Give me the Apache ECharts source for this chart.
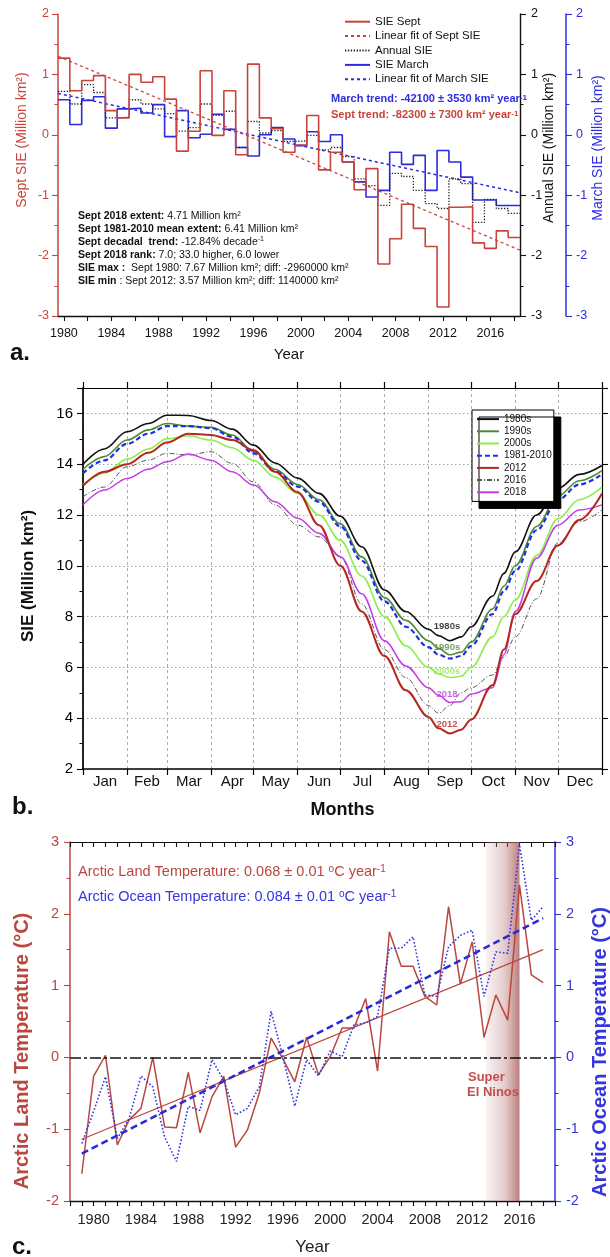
<!DOCTYPE html>
<html><head><meta charset="utf-8">
<script src="https://cdn.jsdelivr.net/npm/echarts@6.0.0/dist/echarts.min.js"></script>
<style>html,body{margin:0;padding:0;background:#fff}#c{width:610px;height:1257px}</style>
</head><body><div id="c"></div>
<script>
const F = "'Liberation Sans', Arial, Helvetica, sans-serif";

// ---------- Panel a : September / March / Annual SIE anomalies ----------
const sieYears = [1980,1981,1982,1983,1984,1985,1986,1987,1988,1989,1990,1991,1992,1993,1994,1995,1996,1997,1998,1999,2000,2001,2002,2003,2004,2005,2006,2007,2008,2009,2010,2011,2012,2013,2014,2015,2016,2017,2018];
const sieSept = [1.27,0.73,0.90,0.98,0.40,0.28,1.00,0.87,0.96,0.59,-0.27,0.06,1.06,-0.01,0.73,-0.33,1.17,0.28,0.10,-0.29,-0.17,0.32,-0.58,-0.29,-0.45,-0.91,-0.56,-2.14,-1.72,-1.15,-1.55,-1.85,-2.85,-1.20,-1.19,-1.79,-1.88,-1.59,-1.70];
const sieAnnual = [0.72,0.51,0.83,0.70,0.28,0.29,0.58,0.51,0.43,0.35,0.06,0.12,0.51,0.32,0.39,-0.21,0.22,0.03,0.07,-0.11,-0.10,-0.01,-0.25,-0.21,-0.36,-0.73,-0.84,-1.17,-0.64,-0.69,-0.92,-1.14,-1.22,-0.73,-0.81,-1.45,-1.07,-1.22,-1.30];
const sieMarch = [0.58,0.17,0.57,0.63,0.11,0.43,0.44,0.36,0.50,-0.03,0.40,-0.05,0.01,0.34,0.09,-0.21,-0.35,0.00,0.12,-0.07,-0.18,0.05,-0.11,0.00,-0.45,-0.78,-1.03,-0.92,-0.29,-0.49,-0.34,-0.92,-0.26,-0.45,-0.70,-1.08,-1.08,-1.17,-1.17];
const sieFitYears = [1979.5, 2018.5];
const sieSeptFit = [1.30, -1.91];
const sieMarchFit = [0.685, -0.96];
const sieTickYears = [1980,1982,1984,1986,1988,1990,1992,1994,1996,1998,2000,2002,2004,2006,2008,2010,2012,2014,2016,2018];
const sieLabelYears = [1980,1984,1988,1992,1996,2000,2004,2008,2012,2016];

// ---------- Panel b : daily SIE climatologies ----------
const monthNames = ['Jan','Feb','Mar','Apr','May','Jun','Jul','Aug','Sep','Oct','Nov','Dec'];
const monthStarts = [0,31,59,90,120,151,181,212,243,273,304,334,365];
const climDays = [0,15,31,46,59,74,90,105,120,135,151,166,181,196,212,227,243,250,258,266,273,288,296,304,319,334,349,365];
const ext1980s = [14.0,14.6,15.28,15.6,15.93,15.92,15.72,15.38,14.75,14.05,13.45,12.85,11.95,10.75,9.05,8.2,7.5,7.25,7.05,7.2,7.6,8.8,9.7,10.55,12.0,13.05,13.6,13.95];
const ext1990s = [13.8,14.3,14.95,15.35,15.6,15.5,15.45,15.15,14.5,13.8,13.2,12.6,11.65,10.35,8.75,7.85,7.05,6.75,6.5,6.6,7.0,8.3,9.2,10.0,11.55,12.75,13.35,13.75];
const ext2000s = [13.2,13.65,14.2,14.6,15.0,15.12,14.95,14.65,14.15,13.5,12.85,12.0,11.0,9.6,8.0,6.85,6.0,5.75,5.6,5.65,6.0,7.2,8.0,8.65,10.4,11.85,12.6,13.1];
const ext8110 = [13.65,14.15,14.8,15.2,15.5,15.5,15.42,15.08,14.43,13.72,13.12,12.52,11.55,10.2,8.6,7.6,6.8,6.5,6.35,6.45,6.85,8.1,9.0,9.8,11.4,12.6,13.2,13.6];
const ext2012 = [13.15,13.7,14.0,14.45,14.85,15.2,15.15,14.95,14.55,13.7,12.9,11.6,10.0,8.2,6.45,5.1,4.05,3.6,3.4,3.55,3.95,5.3,6.7,8.1,9.4,10.8,11.8,12.85];
const ext2016 = [12.72,13.1,13.9,14.16,14.43,14.36,14.49,14.03,13.3,12.4,11.6,11.14,10.36,8.5,6.7,5.6,4.5,4.2,4.5,5.0,5.2,5.7,6.4,7.2,8.7,10.9,11.73,12.2];
const ext2018 = [12.4,12.98,13.44,13.8,14.1,14.4,14.16,13.7,13.18,12.52,11.87,11.28,10.36,8.9,7.05,6.06,5.2,4.9,4.62,4.65,4.95,5.2,6.5,8.2,10.3,11.6,12.2,12.4];
const climNames = ['1980s','1990s','2000s','1981-2010','2012','2016','2018'];
const minLabelNames = ['1980s','1990s','2000s','2018','2012'];
const minLabelDay = 256;
const minLabelValues = [7.6, 6.79, 5.86, 4.94, 3.76];

// ---------- Panel c : Arctic land / ocean temperature ----------
const tempYears = [1979,1980,1981,1982,1983,1984,1985,1986,1987,1988,1989,1990,1991,1992,1993,1994,1995,1996,1997,1998,1999,2000,2001,2002,2003,2004,2005,2006,2007,2008,2009,2010,2011,2012,2013,2014,2015,2016,2017,2018];
const landTemp = [-1.62,-0.26,0.03,-1.22,-0.87,-0.71,0.00,-0.97,-0.98,-0.21,-1.05,-0.55,-0.26,-1.25,-1.01,-0.50,0.27,-0.02,-0.34,0.28,-0.24,0.01,0.41,0.41,0.82,-0.19,1.75,1.27,1.27,0.85,0.73,2.10,1.02,1.61,0.28,0.87,0.52,2.40,1.15,1.04];
const oceanTemp = [-1.20,-0.75,-0.27,-1.13,-0.85,-0.26,-0.41,-1.11,-1.45,-0.68,-0.74,-0.03,-0.32,-0.80,-0.71,-0.41,0.64,0.01,-0.68,-0.03,-0.26,0.09,0.01,0.45,0.48,0.57,1.52,1.52,1.68,0.87,0.85,1.54,1.70,1.77,0.85,1.47,1.45,2.96,1.91,2.10];
const tempFitYears = [1979, 2018];
const landFit = [-1.14, 1.50];
const oceanFit = [-1.34, 1.94];
const elNinoSpan = [2013.2, 2016.0];

// ---------- styles ----------
const RED_A = '#c9433c', BLUE_A = '#2b2be0', BLK = '#111';
const RED_C = '#b9473f', BLUE_C = '#3535e0';
const climStyle = {
  '1980s':     {color:'#111111', width:1.6, type:'solid'},
  '1990s':     {color:'#4f8a34', width:1.6, type:'solid'},
  '2000s':     {color:'#8ded4a', width:1.6, type:'solid'},
  '1981-2010': {color:'#1f2fe8', width:2.2, type:[5,3]},
  '2012':      {color:'#b5271f', width:2.0, type:'solid'},
  '2016':      {color:'#555555', width:1.0, type:[5,2,1,2]},
  '2018':      {color:'#c43ce8', width:1.5, type:'solid'}
};
const climSeriesData = {'1980s':ext1980s,'1990s':ext1990s,'2000s':ext2000s,'1981-2010':ext8110,'2012':ext2012,'2016':ext2016,'2018':ext2018};

const pairs = (xs, ys) => xs.map((x, i) => [x, ys[i]]);
const steps = (yrs, vals) => yrs.map((y, i) => [y - 0.5, vals[i]]).concat([[yrs[yrs.length-1] + 0.5, vals[vals.length-1]]]);
const monthMids = monthNames.map((m, i) => (monthStarts[i] + monthStarts[i+1]) / 2);

function yAx(o) {
  return Object.assign({
    type:'value', splitLine:{show:false},
    axisLine:{show:true, onZero:false, lineStyle:{color:o.c, width:o.w || 1.4}},
    axisTick:{show:true, length:6, lineStyle:{color:o.c, width:1.1}},
    minorTick:{show:!!o.minor, splitNumber:2, length:3.5, lineStyle:{color:o.c, width:1}},
    axisLabel:{show:o.label !== false, color:o.c, fontFamily:F, fontSize:o.fs || 12.5, margin:o.margin || 9, showMaxLabel: o.showMax !== false}
  }, o.extra);
}

const series = [];
// panel a
series.push({name:'SIE March', type:'line', xAxisIndex:0, yAxisIndex:2, step:'end', data:steps(sieYears, sieMarch), symbol:'none', lineStyle:{color:BLUE_A, width:1.6}, itemStyle:{color:BLUE_A}, z:2});
series.push({name:'Linear fit of March SIE', type:'line', xAxisIndex:0, yAxisIndex:2, data:pairs(sieFitYears, sieMarchFit), symbol:'none', lineStyle:{color:BLUE_A, width:1.5, type:[3,3]}, itemStyle:{color:BLUE_A}, z:2});
series.push({name:'Annual SIE', type:'line', xAxisIndex:0, yAxisIndex:1, step:'end', data:steps(sieYears, sieAnnual), symbol:'none', lineStyle:{color:'#222', width:1.3, type:[1.3,1.6]}, itemStyle:{color:'#222'}, z:3});
series.push({name:'SIE Sept', type:'line', xAxisIndex:0, yAxisIndex:0, step:'end', data:steps(sieYears, sieSept), symbol:'none', lineStyle:{color:RED_A, width:1.6}, itemStyle:{color:RED_A}, z:4});
series.push({name:'Linear fit of Sept SIE', type:'line', xAxisIndex:0, yAxisIndex:0, data:pairs(sieFitYears, sieSeptFit), symbol:'none', lineStyle:{color:RED_A, width:1.3, type:[3,3]}, itemStyle:{color:RED_A}, z:4});
// panel b
climNames.forEach((n) => {
  const s = climStyle[n];
  series.push({name:n, type:'line', xAxisIndex:1, yAxisIndex:3, data:pairs(climDays, climSeriesData[n]), symbol:'none', smooth:0.35, smoothMonotone:'x',
    lineStyle:{color:s.color, width:s.width, type:s.type}, itemStyle:{color:s.color}, z:3 + (n === '2012' ? 2 : 0)});
});
series.push({name:'minLabels', type:'scatter', xAxisIndex:1, yAxisIndex:3, symbolSize:0, itemStyle:{color:'rgba(0,0,0,0)'}, silent:true, z:10,
  data: minLabelNames.map((n, i) => ({value:[minLabelDay, minLabelValues[i]], name:n, label:{color: n === '1980s' ? '#111' : climStyle[n].color}})),
  label:{show:true, position:'inside', formatter:p => p.name, fontFamily:F, fontWeight:'bold', fontSize:9.5}});
// panel c
series.push({name:'Arctic Land Temperature', type:'line', xAxisIndex:3, yAxisIndex:5, data:pairs(tempYears, landTemp), symbol:'none', lineStyle:{color:RED_C, width:1.5}, itemStyle:{color:RED_C}, z:3,
  markLine:{silent:true, symbol:['none','none'], label:{show:false}, lineStyle:{color:'#111', type:[11,3,3,3], width:1.6}, data:[{yAxis:0}]},
  markArea:{silent:true, itemStyle:{color:{type:'linear', x:0, y:0, x2:1, y2:0, colorStops:[{offset:0, color:'rgba(205,160,160,0.15)'},{offset:0.55, color:'rgba(190,125,125,0.40)'},{offset:1, color:'rgba(168,88,88,0.78)'}]}},
    data:[[{xAxis:elNinoSpan[0]},{xAxis:elNinoSpan[1]}]]}});
series.push({name:'Land trend', type:'line', xAxisIndex:3, yAxisIndex:5, data:pairs(tempFitYears, landFit), symbol:'none', lineStyle:{color:RED_C, width:1.3}, z:3});
series.push({name:'Arctic Ocean Temperature', type:'line', xAxisIndex:3, yAxisIndex:6, data:pairs(tempYears, oceanTemp), symbol:'none', lineStyle:{color:BLUE_C, width:1.6, type:[1.6,2]}, z:4});
series.push({name:'Ocean trend', type:'line', xAxisIndex:3, yAxisIndex:6, data:pairs(tempFitYears, oceanFit), symbol:'none', lineStyle:{color:'#2a2ad8', width:2.6, type:[7,4]}, z:4});

const T = (x, y, text, st, rot) => ({type:'text', x, y, rotation: rot || 0, silent:true, z:50,
  style:Object.assign({text, fontFamily:F, fill:'#111', align:'left', verticalAlign:'middle'}, st || {})});
const sup = (c, fs, bold) => ({fontSize:fs, verticalAlign:'top', fill:c, fontFamily:F, fontWeight: bold ? 'bold' : 'normal'});

const graphic = [
  T(10, 353, 'a.', {fontSize:24, fontWeight:'bold'}),
  T(12, 807, 'b.', {fontSize:24, fontWeight:'bold'}),
  T(12, 1247, 'c.', {fontSize:24, fontWeight:'bold'}),
  T(22, 140, 'Sept SIE (Million km²)', {fill:RED_A, fontSize:14, align:'center'}, Math.PI/2),
  T(549, 148, 'Annual SIE (Million km²)', {fill:BLK, fontSize:14, align:'center'}, Math.PI/2),
  T(598, 148, 'March SIE (Million km²)', {fill:BLUE_A, fontSize:14, align:'center'}, Math.PI/2),
  T(331, 99, 'March trend: -42100 ± 3530 km² year{s|-1}', {fill:BLUE_A, fontSize:11, fontWeight:'bold', rich:{s:sup(BLUE_A, 8, true)}}),
  T(331, 115, 'Sept trend: -82300 ± 7300 km² year{s|-1}', {fill:RED_A, fontSize:11, fontWeight:'bold', rich:{s:sup(RED_A, 8, true)}}),
  {type:'text', x:78, y:209.5, silent:true, z:50, style:{
    text:[
      '{b|Sept 2018 extent:} 4.71 Million km²',
      '{b|Sept 1981-2010 mean extent:} 6.41 Million km²',
      '{b|Sept decadal  trend:} -12.84% decade{s|-1}',
      '{b|Sept 2018 rank:} 7.0; 33.0 higher, 6.0 lower',
      '{b|SIE max :}  Sept 1980: 7.67 Million km²; diff: -2960000 km²',
      '{b|SIE min} : Sept 2012: 3.57 Million km²; diff: 1140000 km²'].join('\n'),
    fontFamily:F, fontSize:10.5, lineHeight:13, fill:'#111', verticalAlign:'top',
    rich:{b:{fontWeight:'bold', fontSize:10.5, lineHeight:13, fontFamily:F, fill:'#111'}, s:{fontSize:7, lineHeight:13, verticalAlign:'top', fontFamily:F, fill:'#111'}}}},
  T(28, 576, 'SIE (Million km²)', {fontSize:17, fontWeight:'bold', align:'center'}, Math.PI/2),
  T(78, 872, 'Arctic Land Temperature: 0.068 ± 0.01 {s|o}C year{s|-1}', {fill:RED_C, fontSize:14.5, rich:{s:sup(RED_C, 10)}}),
  T(78, 897, 'Arctic Ocean Temperature: 0.084 ± 0.01 {s|o}C year{s|-1}', {fill:BLUE_C, fontSize:14.5, rich:{s:sup(BLUE_C, 10)}}),
  T(468, 1077, 'Super', {fill:'#c0504d', fontSize:13, fontWeight:'bold'}),
  T(467, 1092, 'El Ninos', {fill:'#c0504d', fontSize:13, fontWeight:'bold'}),
  T(22, 1051, 'Arctic Land Temperature (°C)', {fill:RED_C, fontSize:20, fontWeight:'bold', align:'center'}, Math.PI/2),
  T(600, 1052, 'Arctic Ocean Temperature (°C)', {fill:BLUE_C, fontSize:20, fontWeight:'bold', align:'center'}, Math.PI/2)
];

const option = {
  animation:false,
  backgroundColor:'#fff',
  textStyle:{fontFamily:F},
  grid:[
    {left:58, top:14, width:462, height:302, containLabel:false, outerBoundsMode:'none'},
    {left:83, top:388, width:519, height:381, containLabel:false, outerBoundsMode:'none'},
    {left:70, top:842, width:485, height:359, containLabel:false, outerBoundsMode:'none'}
  ],
  legend:[
    {data:['SIE Sept','Linear fit of Sept SIE','Annual SIE','SIE March','Linear fit of March SIE'], orient:'vertical', left:344, top:15,
     itemWidth:25, itemHeight:8, itemGap:1, padding:0, selectedMode:false, itemStyle:{opacity:0},
     textStyle:{fontFamily:F, fontSize:11.5, color:'#111', lineHeight:13.4}},
    {data:climNames, orient:'vertical', left:472, top:410, itemWidth:22, itemHeight:8, itemGap:0, padding:[3,2,3,4],
     backgroundColor:'#fff', borderColor:'#000', borderWidth:1, borderRadius:0, shadowColor:'#000', shadowBlur:0, shadowOffsetX:7, shadowOffsetY:7,
     selectedMode:false, itemStyle:{opacity:0}, textStyle:{fontFamily:F, fontSize:10, color:'#111', lineHeight:12.2}}
  ],
  xAxis:[
    {gridIndex:0, type:'value', min:1979.5, max:2018.5, splitLine:{show:false},
     axisLine:{show:true, onZero:false, lineStyle:{color:BLK, width:1.3}},
     axisTick:{show:true, customValues:sieTickYears, length:5, lineStyle:{color:BLK, width:1.1}},
     axisLabel:{customValues:sieLabelYears, formatter:v => String(v), fontFamily:F, fontSize:12.5, color:BLK, margin:11},
     name:'Year', nameLocation:'middle', nameGap:31, nameTextStyle:{fontFamily:F, fontSize:15, color:BLK}},
    {gridIndex:1, type:'value', min:0, max:365,
     axisLine:{show:true, onZero:false, lineStyle:{color:'#000', width:1.7}},
     axisTick:{show:true, customValues:monthStarts, length:6, lineStyle:{color:'#000', width:1.2}},
     axisLabel:{customValues:monthMids, formatter:v => monthNames[monthMids.indexOf(v)] || '', fontFamily:F, fontSize:15, color:'#111', margin:5},
     splitLine:{show:true, lineStyle:{color:'#9a9a9a', type:[3,3], width:0.8}},
     name:'Months', nameLocation:'middle', nameGap:32, nameTextStyle:{fontFamily:F, fontSize:18, fontWeight:'bold', color:'#111'}},
    {gridIndex:1, type:'value', position:'top', min:0, max:365, splitLine:{show:false},
     axisLine:{show:true, onZero:false, lineStyle:{color:'#000', width:1.2}},
     axisTick:{show:true, customValues:monthStarts, length:6, lineStyle:{color:'#000', width:1.2}},
     axisLabel:{show:false}},
    {gridIndex:2, type:'value', min:1978, max:2019, interval:1, splitLine:{show:false},
     axisLine:{show:true, onZero:false, lineStyle:{color:BLK, width:1.3}},
     axisTick:{show:true, length:5, lineStyle:{color:BLK, width:1.1}},
     axisLabel:{formatter:v => (v % 4 === 0 ? String(v) : ''), fontFamily:F, fontSize:14.5, color:'#222', margin:11},
     name:'Year', nameLocation:'middle', nameGap:38, nameTextStyle:{fontFamily:F, fontSize:17, color:'#222'}},
    {gridIndex:2, type:'value', position:'top', min:1978, max:2019, interval:1, splitLine:{show:false},
     axisLine:{show:true, onZero:false, lineStyle:{color:BLK, width:1.2}},
     axisTick:{show:true, inside:true, length:5, lineStyle:{color:BLK, width:1.1}},
     axisLabel:{show:false}}
  ],
  yAxis:[
    yAx({c:RED_A, minor:true, w:1.5, extra:{gridIndex:0, position:'left', min:-3, max:2, interval:1}}),
    yAx({c:BLK, minor:true, margin:11, extra:{gridIndex:0, position:'right', min:-3, max:2, interval:1}}),
    yAx({c:BLUE_A, minor:true, w:1.5, margin:10, extra:{gridIndex:0, position:'right', offset:46, min:-3, max:2, interval:1}}),
    yAx({c:'#000', minor:true, w:1.7, fs:15, margin:10, showMax:false, extra:{gridIndex:1, position:'left', min:2, max:17, interval:2,
      splitLine:{show:true, lineStyle:{color:'#9a9a9a', type:[1.5,2.5], width:0.9}}}}),
    yAx({c:'#000', minor:false, w:1.2, label:false, extra:{gridIndex:1, position:'right', min:2, max:17, interval:2}}),
    yAx({c:RED_C, minor:true, w:1.5, fs:14.5, margin:11, extra:{gridIndex:2, position:'left', min:-2, max:3, interval:1}}),
    yAx({c:BLUE_C, minor:true, w:1.5, fs:14.5, margin:11, extra:{gridIndex:2, position:'right', min:-2, max:3, interval:1}})
  ],
  graphic: graphic,
  series: series
};

const chart = echarts.init(document.getElementById('c'), null, {renderer:'canvas', width:610, height:1257});
chart.setOption(option);
</script></body></html>
